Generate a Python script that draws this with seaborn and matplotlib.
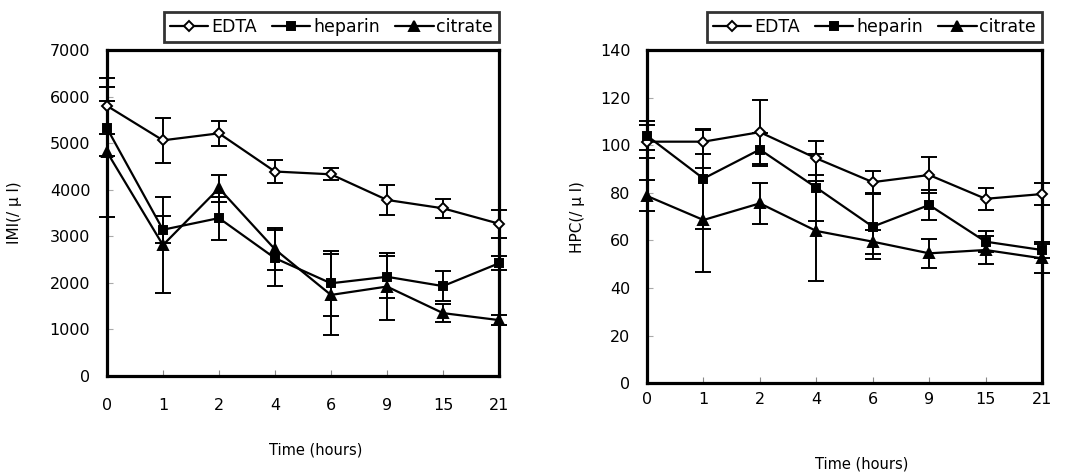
import matplotlib
matplotlib.use("Agg")
import matplotlib.pyplot as plt
import seaborn as sns
import numpy as np

# ---- data ----
times = ["0", "1", "2", "4", "6", "9", "15", "21"]
groups = ["EDTA", "heparin", "citrate"]

imi_edta = [5800, 5060, 5210, 4390, 4330, 3780, 3600, 3270]
imi_edta_sd = [600, 480, 270, 240, 130, 330, 200, 300]
imi_heparin = [5320, 3140, 3390, 2530, 1990, 2130, 1930, 2420]
imi_heparin_sd = [590, 290, 460, 600, 700, 450, 330, 150]
imi_citrate = [4810, 2810, 4030, 2720, 1740, 1920, 1350, 1200]
imi_citrate_sd = [1400, 1030, 290, 450, 870, 720, 200, 110]

hpc_edta = [101.5, 101.5, 105.5, 94.5, 84.5, 87.5, 77.5, 79.5]
hpc_edta_sd = [7, 5, 13.5, 7.2, 4.7, 7.5, 4.6, 4.7]
hpc_heparin = [104, 86, 98.2, 82.2, 65.8, 74.9, 59.5, 56]
hpc_heparin_sd = [6, 21, 7, 14, 13.7, 6.5, 4.5, 3.5]
hpc_citrate = [78.7, 68.6, 75.6, 64, 59.5, 54.6, 56, 52.5]
hpc_citrate_sd = [6.5, 22, 8.5, 21, 5, 6, 6, 6]

imi_values = {"EDTA": (imi_edta, imi_edta_sd),
              "heparin": (imi_heparin, imi_heparin_sd),
              "citrate": (imi_citrate, imi_citrate_sd)}
hpc_values = {"EDTA": (hpc_edta, hpc_edta_sd),
              "heparin": (hpc_heparin, hpc_heparin_sd),
              "citrate": (hpc_citrate, hpc_citrate_sd)}

markers = {"EDTA": "D", "heparin": "s", "citrate": "^"}
faces = {"EDTA": "white", "heparin": "black", "citrate": "black"}
msizes = {"EDTA": 5.5, "heparin": 6, "citrate": 7.5}

sns.set_style("white")
plt.rcParams["font.family"] = ["DejaVu Sans"]
plt.rcParams["text.color"] = "black"
plt.rcParams["axes.labelcolor"] = "black"
plt.rcParams["xtick.color"] = "black"
plt.rcParams["ytick.color"] = "black"

fig = plt.figure(figsize=(10.76, 4.74), dpi=100)
ax1 = fig.add_axes([0.0994, 0.2068, 0.3643, 0.6878])
ax2 = fig.add_axes([0.6013, 0.1913, 0.3671, 0.7032])


def draw(ax, values, ymax, ystep, ylabel, xpad, ylab_x, xlab_xy):
    for g in groups:
        vals, sds = values[g]
        sns.lineplot(x=times, y=vals, ax=ax, color="black", lw=1.6,
                     marker=markers[g], markersize=msizes[g],
                     markerfacecolor=faces[g], markeredgecolor="black",
                     markeredgewidth=1.4, label=g, sort=False, clip_on=False,
                     zorder=3)
        eb = ax.errorbar(times, vals, yerr=sds, fmt="none", ecolor="black",
                         elinewidth=1.4, capsize=5.5, capthick=1.4, zorder=2)
        for art in eb.get_children():
            art.set_clip_on(False)
    ax.set_xlim(0, len(times) - 1)
    ax.set_ylim(0, ymax)
    ax.set_yticks(np.arange(0, ymax + 1, ystep))
    for s in ax.spines.values():
        s.set_visible(True)
        s.set_color("black")
        s.set_linewidth(2.3)
    ax.tick_params(axis="x", direction="in", length=4, width=0.8,
                   color="#888888", pad=xpad, labelsize=11.5, labelcolor="black",
                   bottom=True)
    ax.tick_params(axis="y", direction="in", length=4, width=0.8,
                   color="#aaaaaa", pad=12, labelsize=11.5, labelcolor="black",
                   left=True)
    ax.set_ylabel(ylabel, fontsize=11, color="black")
    ax.yaxis.set_label_coords(ylab_x, 0.5)
    ax.set_xlabel("Time (hours)", fontsize=10.5, color="black")
    ax.xaxis.set_label_coords(*xlab_xy)
    leg = ax.legend(loc="lower right", bbox_to_anchor=(1.0, 1.025), ncol=3,
                    frameon=True, fancybox=False, edgecolor="black",
                    fontsize=12.5, handlelength=2.2, handletextpad=0.15,
                    columnspacing=0.9, borderpad=0.35, borderaxespad=0.0,
                    labelcolor="black")
    leg.get_frame().set_linewidth(2.0)


draw(ax1, imi_values, 7000, 1000, "IMI(/ μ l)", 16, -0.217, (0.533, -0.205))
draw(ax2, hpc_values, 140, 20, "HPC(/ μ l)", 6, -0.157, (0.544, -0.219))

fig.savefig("out.png", dpi=100)
